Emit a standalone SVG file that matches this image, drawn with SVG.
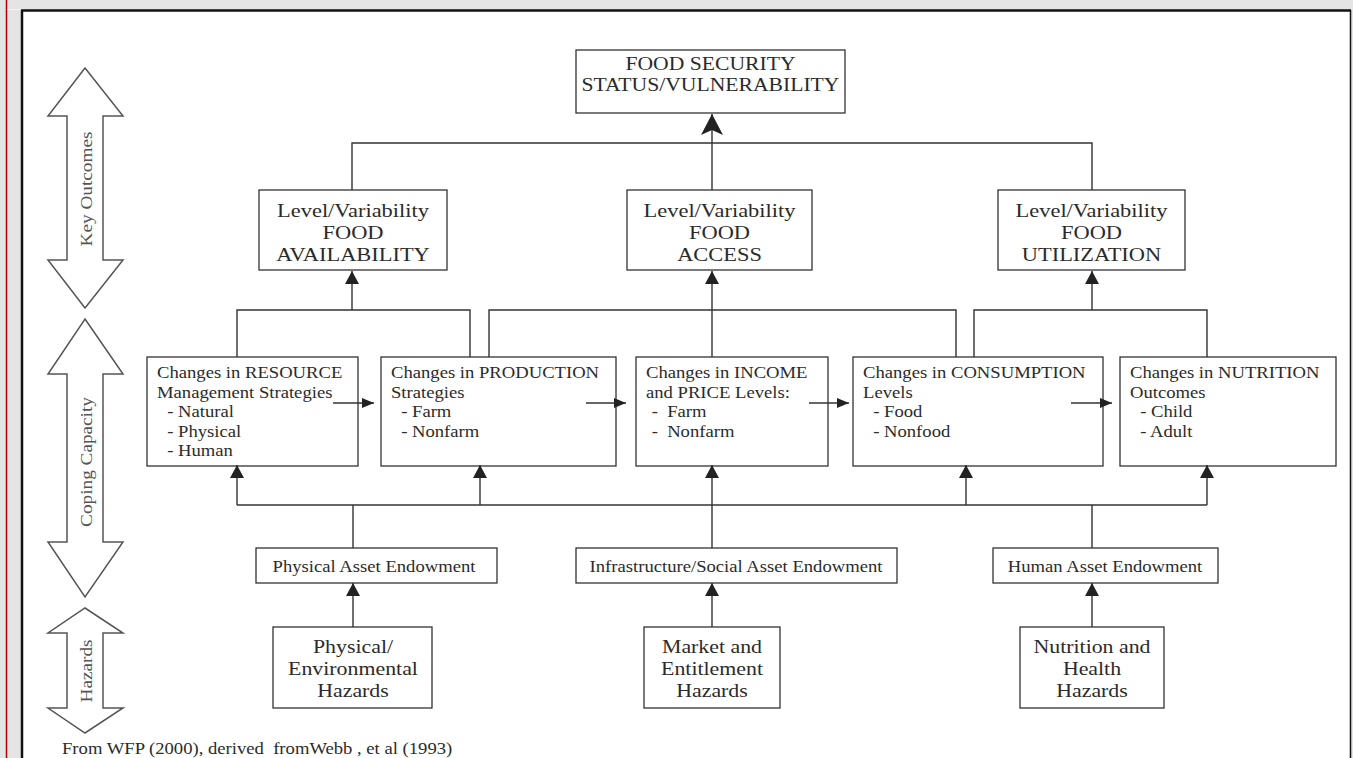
<svg xmlns="http://www.w3.org/2000/svg" width="1353" height="758" viewBox="0 0 1353 758">
<style>
.t{font-family:"Liberation Serif","Times New Roman",serif;fill:#2b2b2b;white-space:pre}
.box{fill:#fff;stroke:#333;stroke-width:1.3}
.ln{fill:none;stroke:#333;stroke-width:1.4}
.side{fill:#fff;stroke:#555;stroke-width:1.5;stroke-linejoin:miter}
.st{font-family:"Liberation Serif","Times New Roman",serif;fill:#555;font-size:17.5px}
</style>
<defs>
<marker id="av" markerUnits="userSpaceOnUse" markerWidth="14" markerHeight="15" refX="13" refY="7" orient="auto"><path d="M0,0 L13,7 L0,14 z" fill="#222"/></marker>
<marker id="ah" markerUnits="userSpaceOnUse" markerWidth="13" markerHeight="11" refX="12" refY="5" orient="auto"><path d="M0,0 L12,5 L0,10 z" fill="#222"/></marker>
<marker id="ab" markerUnits="userSpaceOnUse" markerWidth="22" markerHeight="22" refX="21" refY="11" orient="auto"><path d="M0,0 L21,11 L0,22 L5,11 z" fill="#222"/></marker>
</defs>
<rect x="0" y="0" width="1353" height="758" fill="#e4e4e4"/>
<line x1="6.5" y1="0" x2="6.5" y2="758" stroke="#b00000" stroke-width="1.5"/>
<line x1="7" y1="9.5" x2="22" y2="9.5" stroke="#f2f2f2" stroke-width="1"/>
<rect x="22" y="10" width="1328" height="760" fill="#fff"/>
<line x1="21" y1="10.5" x2="1351" y2="10.5" stroke="#111" stroke-width="2.5"/>
<line x1="22" y1="10" x2="22" y2="758" stroke="#111" stroke-width="2.5"/>
<line x1="1350.5" y1="10" x2="1350.5" y2="758" stroke="#111" stroke-width="1.5"/>

<g id="side-arrows">
<polygon class="side" points="85,68 123,116 103,116 103,260 123,260 85,308 48,260 67,260 67,116 48,116"/>
<text class="st" text-anchor="middle" transform="translate(92,189) rotate(-90) scale(1.1,1)">Key Outcomes</text>
<polygon class="side" points="85,319 123,374 103,374 103,542 123,542 85,597 48,542 67,542 67,374 48,374"/>
<text class="st" text-anchor="middle" transform="translate(92,462) rotate(-90) scale(1.1,1)">Coping Capacity</text>
<polygon class="side" points="85,608 123,633 103,633 103,708 123,708 85,733 48,708 67,708 67,633 48,633"/>
<text class="st" text-anchor="middle" transform="translate(92,671) rotate(-90) scale(1.1,1)">Hazards</text>
</g>

<g id="food-security">
<rect class="box" x="576" y="50" width="269" height="63"/>
<g transform="translate(710.5,70) scale(1.17,1)"><text class="t" font-size="18.5" text-anchor="middle" x="0" y="0">FOOD SECURITY</text><text class="t" font-size="18.5" text-anchor="middle" x="0" y="21">STATUS/VULNERABILITY</text></g>
</g>

<g id="availability">
<rect class="box" x="259" y="190" width="188" height="80"/>
<g transform="translate(353,217) scale(1.18,1)"><text class="t" font-size="19" text-anchor="middle" y="0">Level/Variability</text><text class="t" font-size="19" text-anchor="middle" y="22">FOOD</text><text class="t" font-size="19" text-anchor="middle" y="44">AVAILABILITY</text></g>
</g>
<g id="access">
<rect class="box" x="627" y="190" width="185" height="80"/>
<g transform="translate(719.5,217) scale(1.18,1)"><text class="t" font-size="19" text-anchor="middle" y="0">Level/Variability</text><text class="t" font-size="19" text-anchor="middle" y="22">FOOD</text><text class="t" font-size="19" text-anchor="middle" y="44">ACCESS</text></g>
</g>
<g id="utilization">
<rect class="box" x="998" y="190" width="187" height="80"/>
<g transform="translate(1091.5,217) scale(1.18,1)"><text class="t" font-size="19" text-anchor="middle" y="0">Level/Variability</text><text class="t" font-size="19" text-anchor="middle" y="22">FOOD</text><text class="t" font-size="19" text-anchor="middle" y="44">UTILIZATION</text></g>
</g>

<g id="resource">
<rect class="box" x="147" y="357" width="211" height="109"/>
<g transform="translate(157,378) scale(1.13,1)"><text class="t" font-size="16.5" y="0">Changes in RESOURCE</text><text class="t" font-size="16.5" y="20">Management Strategies</text><text class="t" font-size="16.5" x="9" y="39.5">- Natural</text><text class="t" font-size="16.5" x="9" y="59">- Physical</text><text class="t" font-size="16.5" x="9" y="78.5">- Human</text></g>
</g>
<g id="production">
<rect class="box" x="381" y="357" width="235" height="109"/>
<g transform="translate(391,378) scale(1.13,1)"><text class="t" font-size="16.5" y="0">Changes in PRODUCTION</text><text class="t" font-size="16.5" y="20">Strategies</text><text class="t" font-size="16.5" x="9" y="39.5">- Farm</text><text class="t" font-size="16.5" x="9" y="59">- Nonfarm</text></g>
</g>
<g id="income">
<rect class="box" x="636" y="357" width="192" height="109"/>
<g transform="translate(646,378) scale(1.13,1)"><text class="t" font-size="16.5" y="0">Changes in INCOME</text><text class="t" font-size="16.5" y="20">and PRICE Levels:</text><text class="t" font-size="16.5" x="5" y="39.5">-  Farm</text><text class="t" font-size="16.5" x="5" y="59">-  Nonfarm</text></g>
</g>
<g id="consumption">
<rect class="box" x="853" y="357" width="250" height="109"/>
<g transform="translate(863,378) scale(1.13,1)"><text class="t" font-size="16.5" y="0">Changes in CONSUMPTION</text><text class="t" font-size="16.5" y="20">Levels</text><text class="t" font-size="16.5" x="9" y="39.5">- Food</text><text class="t" font-size="16.5" x="9" y="59">- Nonfood</text></g>
</g>
<g id="nutrition">
<rect class="box" x="1120" y="357" width="216" height="109"/>
<g transform="translate(1130,378) scale(1.13,1)"><text class="t" font-size="16.5" y="0">Changes in NUTRITION</text><text class="t" font-size="16.5" y="20">Outcomes</text><text class="t" font-size="16.5" x="9" y="39.5">- Child</text><text class="t" font-size="16.5" x="9" y="59">- Adult</text></g>
</g>

<g id="physical-asset">
<rect class="box" x="256" y="548" width="241" height="35"/>
<text class="t" font-size="16.5" text-anchor="middle" transform="translate(374,572) scale(1.13,1)">Physical Asset Endowment</text>
</g>
<g id="infrastructure-asset">
<rect class="box" x="576" y="548" width="321" height="35"/>
<text class="t" font-size="16.5" text-anchor="middle" transform="translate(736,572) scale(1.13,1)">Infrastructure/Social Asset Endowment</text>
</g>
<g id="human-asset">
<rect class="box" x="993" y="548" width="225" height="35"/>
<text class="t" font-size="16.5" text-anchor="middle" transform="translate(1105,572) scale(1.13,1)">Human Asset Endowment</text>
</g>

<g id="physical-hazards">
<rect class="box" x="273" y="627" width="159" height="81"/>
<g transform="translate(353,653) scale(1.15,1)"><text class="t" font-size="19" text-anchor="middle" y="0">Physical/</text><text class="t" font-size="19" text-anchor="middle" y="22">Environmental</text><text class="t" font-size="19" text-anchor="middle" y="44">Hazards</text></g>
</g>
<g id="market-hazards">
<rect class="box" x="644" y="627" width="136" height="81"/>
<g transform="translate(712,653) scale(1.15,1)"><text class="t" font-size="19" text-anchor="middle" y="0">Market and</text><text class="t" font-size="19" text-anchor="middle" y="22">Entitlement</text><text class="t" font-size="19" text-anchor="middle" y="44">Hazards</text></g>
</g>
<g id="nutrition-hazards">
<rect class="box" x="1020" y="627" width="144" height="81"/>
<g transform="translate(1092,653) scale(1.15,1)"><text class="t" font-size="19" text-anchor="middle" y="0">Nutrition and</text><text class="t" font-size="19" text-anchor="middle" y="22">Health</text><text class="t" font-size="19" text-anchor="middle" y="44">Hazards</text></g>
</g>

<g id="connectors">
<path class="ln" d="M352,190 V143 H1092 V190"/>
<path class="ln" d="M712,190 V114" marker-end="url(#ab)"/>
<path class="ln" d="M352,310 V271" marker-end="url(#av)"/>
<path class="ln" d="M712,357 V271" marker-end="url(#av)"/>
<path class="ln" d="M1092,310 V271" marker-end="url(#av)"/>
<path class="ln" d="M237,357 V310 H470 V357"/>
<path class="ln" d="M489,357 V310 H956 V357"/>
<path class="ln" d="M974,357 V310 H1207 V357"/>
<path class="ln" d="M333,403 H374" marker-end="url(#ah)"/>
<path class="ln" d="M586,403 H626" marker-end="url(#ah)"/>
<path class="ln" d="M809,403 H849" marker-end="url(#ah)"/>
<path class="ln" d="M1071,403 H1112" marker-end="url(#ah)"/>
<path class="ln" d="M237,505 H1207"/>
<path class="ln" d="M237,505 V465" marker-end="url(#av)"/>
<path class="ln" d="M480,505 V465" marker-end="url(#av)"/>
<path class="ln" d="M712,548 V465" marker-end="url(#av)"/>
<path class="ln" d="M966,505 V465" marker-end="url(#av)"/>
<path class="ln" d="M1207,505 V465" marker-end="url(#av)"/>
<path class="ln" d="M353,548 V505"/>
<path class="ln" d="M1092,548 V505"/>
<path class="ln" d="M353,627 V583" marker-end="url(#av)"/>
<path class="ln" d="M712,627 V583" marker-end="url(#av)"/>
<path class="ln" d="M1092,627 V583" marker-end="url(#av)"/>
</g>

<text class="t" font-size="16.5" transform="translate(62,754) scale(1.13,1)">From WFP (2000), derived  fromWebb , et al (1993)</text>
</svg>
